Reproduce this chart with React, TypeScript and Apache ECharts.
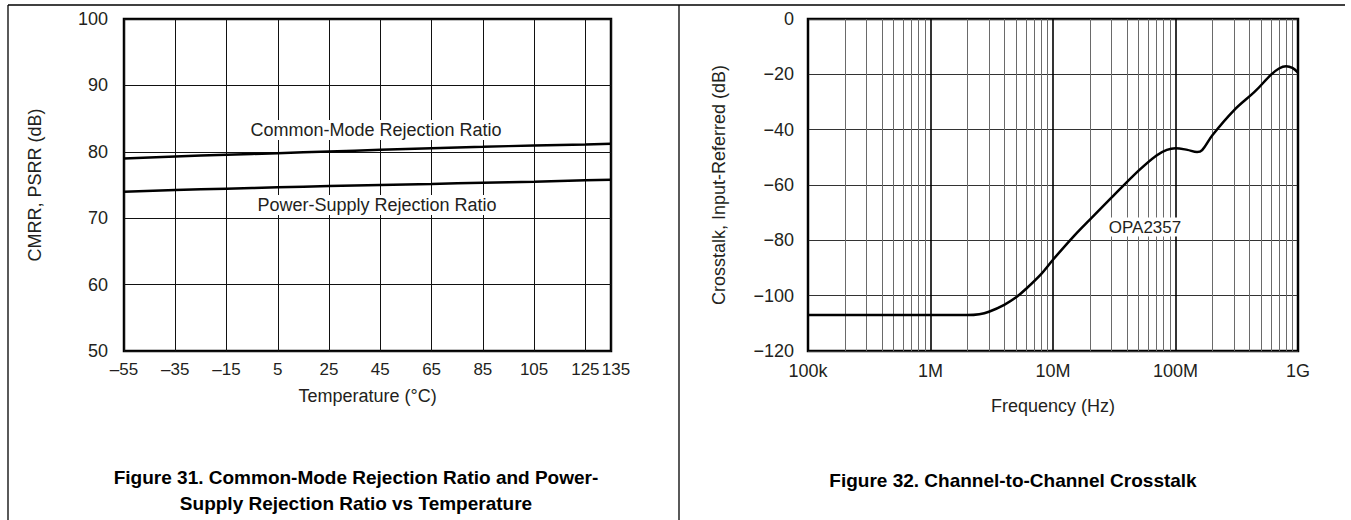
import React, { useEffect, useRef } from "react";
import * as echarts from "echarts";

// ---- Figure 31 data ----
const TEMP_MIN = -55;
const TEMP_MAX = 135;
const temperatures = [-55, -35, -15, 5, 25, 45, 65, 85, 105, 125, 135];
const cmrrValues = [79.0, 79.3, 79.55, 79.8, 80.05, 80.3, 80.55, 80.75, 80.95, 81.1, 81.2];
const psrrValues = [74.0, 74.25, 74.45, 74.65, 74.85, 75.0, 75.15, 75.35, 75.5, 75.7, 75.8];
const tempTickLabels: Record<number, string> = {
  [-55]: "\u201355", [-35]: "\u201335", [-15]: "\u201315", 5: "5", 25: "25", 45: "45",
  65: "65", 85: "85", 105: "105", 125: "125", 135: "135",
};

// ---- Figure 32 data ----
const frequencies = [
  1e5, 2e5, 5e5, 1e6, 2e6, 2.5e6, 3e6, 4e6, 5e6, 6e6, 8e6, 1e7, 1.5e7, 2e7, 3e7, 5e7,
  7e7, 8.5e7, 1e8, 1.25e8, 1.5e8, 1.65e8, 2e8, 3e8, 4.5e8, 6e8, 7e8, 8e8, 9e8, 1e9,
];
const crosstalkValues = [
  -107, -107, -107, -107, -107, -106.7, -105.8, -103.3, -100.6, -97.6, -92.2, -87, -78.2, -72.5, -64.6, -54.8,
  -49.3, -47.3, -46.7, -47.3, -48.1, -47.4, -42, -33, -26, -20.2, -17.9, -17.1, -17.7, -19.4,
];
const freqTickLabels: Record<string, string> = {
  "100000": "100k", "1000000": "1M", "10000000": "10M", "100000000": "100M", "1000000000": "1G",
};
const decades = [1e5, 1e6, 1e7, 1e8];
const minorMultipliers = [2, 3, 4, 5, 6, 7, 8, 9];

const FONT = "'Liberation Sans', Arial, sans-serif";
const TXT = "#231f20";
const FS = 18;
const FS_X = 17;

export default function App() {
  const ref = useRef<HTMLDivElement>(null);
  useEffect(() => {
    if (!ref.current) return;
    const chart = echarts.init(ref.current, undefined, { renderer: "svg" });
    const minorLines: any[] = [];
    decades.forEach((d) => minorMultipliers.forEach((m) => minorLines.push({ xAxis: d * m })));
    const tempSpan = TEMP_MAX - TEMP_MIN;
    const tempLabel = (v: number) => tempTickLabels[Math.round(v + TEMP_MIN)] ?? "";

    const option: any = {
      animation: false,
      backgroundColor: "#fff",
      textStyle: { fontFamily: FONT },
      grid: [
        { left: 124, top: 19, width: 487, height: 332, show: true, borderColor: "#000", borderWidth: 2.5, containLabel: false },
        { left: 808, top: 19, width: 490, height: 332, show: true, borderColor: "#000", borderWidth: 2.5, containLabel: false },
      ],
      xAxis: [
        {
          gridIndex: 0, type: "value", min: 0, max: tempSpan, interval: 20,
          axisLine: { show: false }, axisTick: { show: false },
          splitLine: { show: true, lineStyle: { color: "#111", width: 1 } },
          axisLabel: {
            color: TXT, fontSize: FS_X, margin: 10, fontFamily: FONT, showMaxLabel: false, showMinLabel: true,
            formatter: (v: number) => (v >= tempSpan ? "" : tempLabel(v)),
          },
          name: "Temperature (\u00b0C)", nameLocation: "middle", nameGap: 36,
          nameTextStyle: { color: TXT, fontSize: FS, fontFamily: FONT },
        },
        {
          gridIndex: 1, type: "log", logBase: 10, min: 1e5, max: 1e9,
          axisLine: { show: false }, axisTick: { show: false },
          splitLine: { show: true, lineStyle: { color: "#000", width: 1.6 } },
          axisLabel: {
            color: TXT, fontSize: FS, margin: 11, fontFamily: FONT, showMaxLabel: true, showMinLabel: true,
            formatter: (v: number) => freqTickLabels[String(Math.round(v))] ?? "",
          },
          name: "Frequency (Hz)", nameLocation: "middle", nameGap: 46,
          nameTextStyle: { color: TXT, fontSize: FS, fontFamily: FONT },
        },
        {
          // companion axis on the first grid, carrying only the end label (135)
          gridIndex: 0, type: "value", min: 0, max: tempSpan, interval: 20, position: "bottom",
          axisLine: { show: false }, axisTick: { show: false }, splitLine: { show: false },
          axisLabel: {
            color: TXT, fontSize: FS_X, margin: 10, fontFamily: FONT, showMaxLabel: true, showMinLabel: false,
            formatter: (v: number) => (v >= tempSpan ? "{r|" + tempLabel(v) + "}" : ""),
            rich: { r: { fontSize: FS_X, color: TXT, fontFamily: FONT, padding: [0, 0, 0, 10] } },
          },
        },
      ],
      yAxis: [
        {
          gridIndex: 0, type: "value", min: 50, max: 100, interval: 10,
          axisLine: { show: false }, axisTick: { show: false },
          splitLine: { show: true, lineStyle: { color: "#111", width: 1 } },
          axisLabel: { color: TXT, fontSize: FS, margin: 16, fontFamily: FONT },
          name: "CMRR, PSRR (dB)", nameLocation: "middle", nameGap: 80,
          nameTextStyle: { color: TXT, fontSize: FS, fontFamily: FONT },
        },
        {
          gridIndex: 1, type: "value", min: -120, max: 0, interval: 20,
          axisLine: { show: false }, axisTick: { show: false },
          splitLine: { show: true, lineStyle: { color: "#333", width: 1 } },
          axisLabel: {
            color: TXT, fontSize: FS, margin: 14, fontFamily: FONT,
            formatter: (v: number) => (v < 0 ? "\u2212" + Math.abs(v) : String(v)),
          },
          name: "Crosstalk, Input-Referred (dB)", nameLocation: "middle", nameGap: 80,
          nameTextStyle: { color: TXT, fontSize: FS, fontFamily: FONT },
        },
      ],
      series: [
        {
          name: "CMRR", type: "line", xAxisIndex: 0, yAxisIndex: 0, smooth: true, showSymbol: false, z: 5,
          lineStyle: { color: "#000", width: 2.5 },
          data: temperatures.map((t, i) => [t - TEMP_MIN, cmrrValues[i]]),
        },
        {
          name: "PSRR", type: "line", xAxisIndex: 0, yAxisIndex: 0, smooth: true, showSymbol: false, z: 5,
          lineStyle: { color: "#000", width: 2.5 },
          data: temperatures.map((t, i) => [t - TEMP_MIN, psrrValues[i]]),
        },
        {
          name: "minor-grid", type: "line", xAxisIndex: 1, yAxisIndex: 1, showSymbol: false, silent: true, z: 1,
          lineStyle: { opacity: 0, width: 0 },
          data: frequencies.map((f, i) => [f, crosstalkValues[i]]),
          markLine: {
            silent: true, symbol: ["none", "none"], label: { show: false },
            lineStyle: { color: "#6a6a6a", width: 1, type: "solid" },
            emphasis: { disabled: true },
            data: minorLines,
          },
        },
        {
          name: "OPA2357", type: "line", xAxisIndex: 1, yAxisIndex: 1, smooth: 0.35, showSymbol: false, z: 5,
          lineStyle: { color: "#000", width: 2.5 },
          data: frequencies.map((f, i) => [f, crosstalkValues[i]]),
        },
      ],
      graphic: [
        { type: "line", shape: { x1: 8, y1: 5, x2: 1345, y2: 5 }, style: { stroke: "#000", lineWidth: 1.3 }, z: 100 },
        { type: "line", shape: { x1: 8, y1: 5, x2: 8, y2: 520 }, style: { stroke: "#000", lineWidth: 1.3 }, z: 100 },
        { type: "line", shape: { x1: 679, y1: 5, x2: 679, y2: 520 }, style: { stroke: "#000", lineWidth: 1.3 }, z: 100 },
        {
          type: "text", x: 376, y: 130, z: 100,
          style: { text: "Common-Mode Rejection Ratio", fill: TXT, font: `${FS}px ${FONT}`, textAlign: "center", textVerticalAlign: "middle", backgroundColor: "#fff", padding: [1, 3] },
        },
        {
          type: "text", x: 377, y: 205, z: 100,
          style: { text: "Power-Supply Rejection Ratio", fill: TXT, font: `${FS}px ${FONT}`, textAlign: "center", textVerticalAlign: "middle", backgroundColor: "#fff", padding: [1, 3] },
        },
        {
          type: "text", x: 1145, y: 227, z: 100,
          style: { text: "OPA2357", fill: TXT, font: `17px ${FONT}`, textAlign: "center", textVerticalAlign: "middle", backgroundColor: "#fff", padding: [1, 3] },
        },
        {
          type: "text", x: 356, y: 477, z: 100,
          style: { text: "Figure 31. Common-Mode Rejection Ratio and Power-", fill: "#000", font: `bold 19px ${FONT}`, textAlign: "center", textVerticalAlign: "middle" },
        },
        {
          type: "text", x: 356, y: 503, z: 100,
          style: { text: "Supply Rejection Ratio vs Temperature", fill: "#000", font: `bold 19px ${FONT}`, textAlign: "center", textVerticalAlign: "middle" },
        },
        {
          type: "text", x: 1013, y: 480, z: 100,
          style: { text: "Figure 32. Channel-to-Channel Crosstalk", fill: "#000", font: `bold 19px ${FONT}`, textAlign: "center", textVerticalAlign: "middle" },
        },
      ],
    };
    chart.setOption(option);
    return () => chart.dispose();
  }, []);
  return (
    <div
      ref={ref}
      style={{ position: "fixed", left: 0, top: 0, width: 1351, height: 520, background: "#fff" }}
    />
  );
}
